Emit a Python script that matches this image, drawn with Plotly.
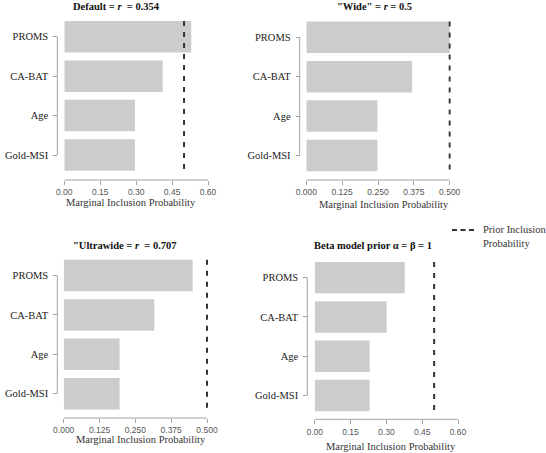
import plotly.graph_objects as go

# ---------------- data ----------------
categories = ["PROMS", "CA-BAT", "Age", "Gold-MSI"]
default_pip = [0.530, 0.411, 0.295, 0.295]
wide_pip = [0.500, 0.369, 0.248, 0.248]
ultrawide_pip = [0.450, 0.316, 0.195, 0.195]
beta_pip = [0.377, 0.301, 0.230, 0.230]
prior_inclusion = 0.5

titles = [
    "<b>Default = <i>r</i>  = 0.354</b>",
    "<b>\"Wide\" = <i>r</i> = 0.5</b>",
    "<b>\"Ultrawide = <i>r</i>  = 0.707</b>",
    "<b>Beta model prior α = β = 1</b>",
]
ticks_06 = [0.0, 0.15, 0.30, 0.45, 0.60]
ticks_05 = [0.0, 0.125, 0.250, 0.375, 0.500]
x_title = "Marginal Inclusion Probability"
legend_label = "Prior Inclusion<br>Probability"

# ---------------- layout helpers ----------------
W, H = 546, 453


def px(x):
    return x / W


def py(y):
    return 1 - y / H


panels = [
    dict(vals=default_pip, ticks=ticks_06, fmt=".2f", xdom=(64.3, 208.0), ydom=(17.1, 174.7),
         xline=180.0, yline=57.3, tpos=(116.3, 6.5), xtpos=(130.8, 202.5)),
    dict(vals=wide_pip, ticks=ticks_05, fmt=".3f", xdom=(306.3, 449.7), ydom=(17.6, 175.2),
         xline=180.0, yline=299.7, tpos=(374.7, 6.5), xtpos=(384.3, 204.7)),
    dict(vals=ultrawide_pip, ticks=ticks_05, fmt=".3f", xdom=(63.7, 207.0), ydom=(255.8, 413.4),
         xline=418.0, yline=57.3, tpos=(124.7, 245.0), xtpos=(140.5, 439.0)),
    dict(vals=beta_pip, ticks=ticks_06, fmt=".2f", xdom=(314.7, 458.0), ydom=(258.0, 415.2),
         xline=419.3, yline=307.3, tpos=(373.3, 245.0), xtpos=(391.0, 446.0)),
]

SERIF = "Liberation Serif, Times New Roman, serif"
SANS = "Liberation Sans, Arial, sans-serif"
AXIS_GREY = "#a3a3a3"
BAR_GREY = "#cccccc"
DASH_COL = "#333333"

fig = go.Figure()
layout = dict(
    template="none",
    width=W, height=H,
    margin=dict(l=0, r=0, t=0, b=0, pad=0),
    paper_bgcolor="white", plot_bgcolor="white",
    showlegend=False,
    bargap=0.2,
)
annotations = []
shapes = []
n = len(categories)
ypos = list(range(n))

for i, p in enumerate(panels):
    k = "" if i == 0 else str(i + 1)
    xa, ya = "x" + k, "y" + k
    fig.add_trace(go.Bar(
        x=p["vals"], y=ypos, orientation="h", width=0.8,
        marker=dict(color=BAR_GREY, line=dict(width=0)),
        xaxis=xa, yaxis=ya, showlegend=False, hoverinfo="x+y",
    ))
    fig.add_trace(go.Scatter(
        x=[prior_inclusion, prior_inclusion], y=[-0.4, n - 0.6],
        mode="lines", line=dict(color=DASH_COL, width=2, dash="5px,6px"),
        xaxis=xa, yaxis=ya, name="Prior Inclusion Probability", showlegend=False,
    ))
    xmax = p["ticks"][-1]
    pad = xmax * 0.008  # keep the dashed line at the range edge from being clipped
    span_px = p["xdom"][1] - p["xdom"][0]
    layout["xaxis" + k] = dict(
        domain=[px(p["xdom"][0]), px(p["xdom"][1] + span_px * pad / xmax)],
        range=[0, xmax + pad], anchor="free", position=py(p["xline"]),
        tickvals=p["ticks"], tickformat=p["fmt"],
        ticks="outside", ticklen=4, tickcolor=AXIS_GREY, tickwidth=1,
        showline=False, showgrid=False, zeroline=False, automargin=False,
        tickfont=dict(family=SANS, size=8.5, color="#555555"),
    )
    layout["yaxis" + k] = dict(
        domain=[py(p["ydom"][1]), py(p["ydom"][0])],
        range=[n - 0.5, -0.5], anchor="free", position=px(p["yline"]),
        tickvals=ypos, ticktext=categories,
        ticks="outside", ticklen=4, tickcolor=AXIS_GREY, tickwidth=1,
        showline=False, showgrid=False, zeroline=False, automargin=False,
        tickfont=dict(family=SERIF, size=10.5, color="#222222"),
        ticklabelstandoff=3,
    )
    # x-axis line from first to last tick
    shapes.append(dict(type="line", xref=xa, yref="paper",
                       x0=p["ticks"][0], x1=p["ticks"][-1],
                       y0=py(p["xline"]), y1=py(p["xline"]),
                       line=dict(color=AXIS_GREY, width=1)))
    # y-axis line spanning first to last category tick
    shapes.append(dict(type="line", xref="paper", yref=ya,
                       x0=px(p["yline"]), x1=px(p["yline"]), y0=ypos[0], y1=ypos[-1],
                       line=dict(color=AXIS_GREY, width=1)))
    annotations.append(dict(text=titles[i], x=px(p["tpos"][0]), y=py(p["tpos"][1]),
                            xref="paper", yref="paper", showarrow=False,
                            xanchor="center", yanchor="middle",
                            font=dict(family=SERIF, size=10.5, color="#111111")))
    annotations.append(dict(text=x_title, x=px(p["xtpos"][0]), y=py(p["xtpos"][1]),
                            xref="paper", yref="paper", showarrow=False,
                            xanchor="center", yanchor="middle",
                            font=dict(family=SERIF, size=10.5, color="#333333")))

# legend key (drawn manually so it does not push the margins)
shapes.append(dict(type="line", xref="paper", yref="paper",
                   x0=px(452), x1=px(474.5), y0=py(230), y1=py(230),
                   line=dict(color=DASH_COL, width=2, dash="5px,3.5px")))
annotations.append(dict(text=legend_label, x=px(481), y=py(222.5),
                        xref="paper", yref="paper", showarrow=False,
                        xanchor="left", yanchor="top", align="left",
                        font=dict(family=SERIF, size=10.5, color="#333333")))

layout["annotations"] = annotations
layout["shapes"] = shapes
fig.update_layout(**layout)
fig.write_html("out.html")
